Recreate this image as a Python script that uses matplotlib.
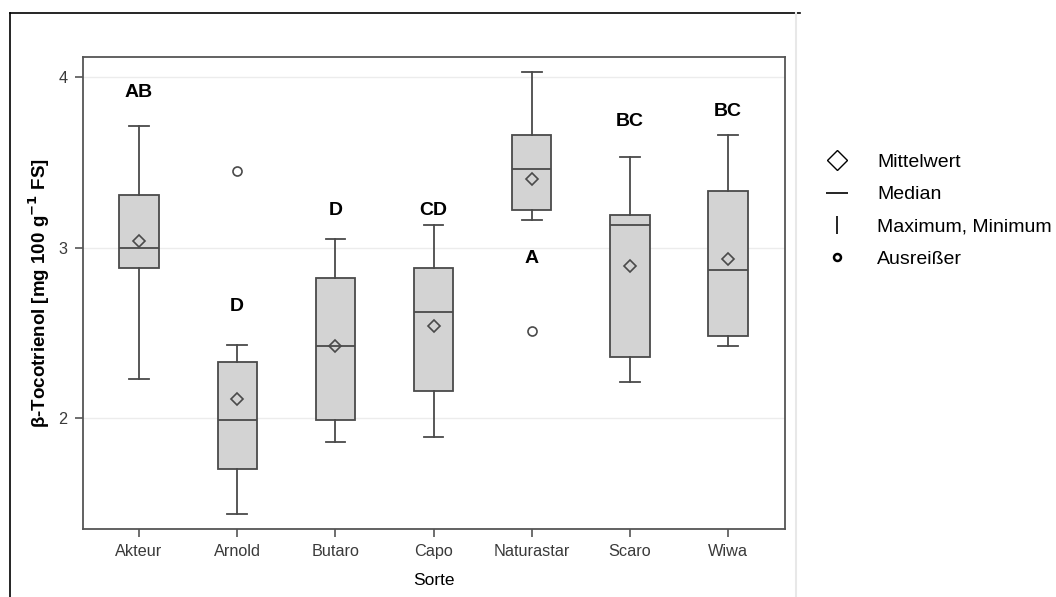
import matplotlib.pyplot as plt
from matplotlib.lines import Line2D

plt.rcParams['font.family'] = ['Liberation Sans', 'DejaVu Sans']

# beta-tocotrienol per variety (box statistics)
sorten = ['Akteur', 'Arnold', 'Butaro', 'Capo', 'Naturastar', 'Scaro', 'Wiwa']
whis_lo = [2.23, 1.44, 1.86, 1.89, 3.16, 2.21, 2.42]
q1 = [2.88, 1.70, 1.99, 2.16, 3.22, 2.36, 2.48]
median = [3.00, 1.99, 2.42, 2.62, 3.46, 3.13, 2.87]
q3 = [3.31, 2.33, 2.82, 2.88, 3.66, 3.19, 3.33]
whis_hi = [3.71, 2.43, 3.05, 3.13, 4.03, 3.53, 3.66]
mittel = [3.04, 2.11, 2.42, 2.54, 3.40, 2.89, 2.93]
ausreisser = [[], [3.45], [], [], [2.51], [], []]

# significance letters and where they sit
letters = ['AB', 'D', 'D', 'CD', 'A', 'BC', 'BC']
letter_y = [3.91, 2.655, 3.22, 3.22, 2.935, 3.74, 3.80]

edge = '#4a4a4a'

fig = plt.figure(figsize=(10.56, 5.97), dpi=100)
ax = fig.add_axes([83 / 1056, 1 - 529 / 597, 702 / 1056, 472 / 597])

stats = []
for i, name in enumerate(sorten):
    stats.append(dict(label=name, whislo=whis_lo[i], q1=q1[i], med=median[i],
                      q3=q3[i], whishi=whis_hi[i], mean=mittel[i],
                      fliers=ausreisser[i]))

ax.bxp(stats, positions=range(len(sorten)), widths=0.4, patch_artist=True,
       showmeans=True,
       boxprops=dict(facecolor='#d3d3d3', edgecolor=edge, linewidth=1.3),
       medianprops=dict(color=edge, linewidth=1.3),
       whiskerprops=dict(color=edge, linewidth=1.3),
       capprops=dict(color=edge, linewidth=1.3),
       capwidths=0.2,
       meanprops=dict(marker='D', markersize=6.3, markerfacecolor='none',
                      markeredgecolor=edge, markeredgewidth=1.2),
       flierprops=dict(marker='o', markersize=6.5, markerfacecolor='none',
                       markeredgecolor=edge, markeredgewidth=1.2))

for i, (txt, y) in enumerate(zip(letters, letter_y)):
    ax.text(i, y, txt, ha='center', va='center', fontsize=14,
            fontweight='bold', color='black')

ax.set_xlim(-0.57, 6.58)
ax.set_ylim(1.35, 4.117)
ax.set_yticks([2, 3, 4])
ax.set_yticklabels(['2', '3', '4'])
ax.yaxis.grid(True, color='#ececec', linewidth=1)
ax.set_axisbelow(True)
for sp in ax.spines.values():
    sp.set_color('#555555')
    sp.set_linewidth(1.3)
ax.tick_params(colors='#555555', labelcolor='#3a3a3a', labelsize=11.7,
               length=6, width=1.2, pad=5)
ax.set_xlabel('Sorte', fontsize=12.5, labelpad=10)
ax.set_ylabel(r'β-Tocotrienol [mg 100 g$^{\mathbf{-1}}$ FS]', fontsize=13.5,
              fontweight='bold', labelpad=5)

# legend to the right of the plot
handles = [
    Line2D([], [], linestyle='none', marker='D', markersize=10,
           markerfacecolor='none', markeredgecolor='black', markeredgewidth=1),
    Line2D([], [], linestyle='none', marker='_', markersize=16,
           markeredgecolor='black', markeredgewidth=1.2),
    Line2D([], [], linestyle='none', marker='|', markersize=13,
           markeredgecolor='black', markeredgewidth=1.2),
    Line2D([], [], linestyle='none', marker='o', markersize=5,
           markerfacecolor='none', markeredgecolor='black', markeredgewidth=1.8),
]
fig.legend(handles, ['Mittelwert', 'Median', 'Maximum, Minimum', 'Ausreißer'],
           loc='upper left', bbox_to_anchor=(809 / 1056, 1 - 136 / 597),
           frameon=False, fontsize=14, handlelength=1.1, handletextpad=1.52,
           labelspacing=0.75)

# outer frame lines
fig.add_artist(Line2D([10 / 1056, 800 / 1056], [1 - 13 / 597, 1 - 13 / 597],
                      color='black', linewidth=1.2))
fig.add_artist(Line2D([10 / 1056, 10 / 1056], [0, 1 - 13 / 597],
                      color='black', linewidth=1.2))
fig.add_artist(Line2D([796 / 1056, 796 / 1056], [0, 1 - 13 / 597],
                      color='#e8e8e8', linewidth=1.5))

fig.savefig('out.png', dpi=100)
